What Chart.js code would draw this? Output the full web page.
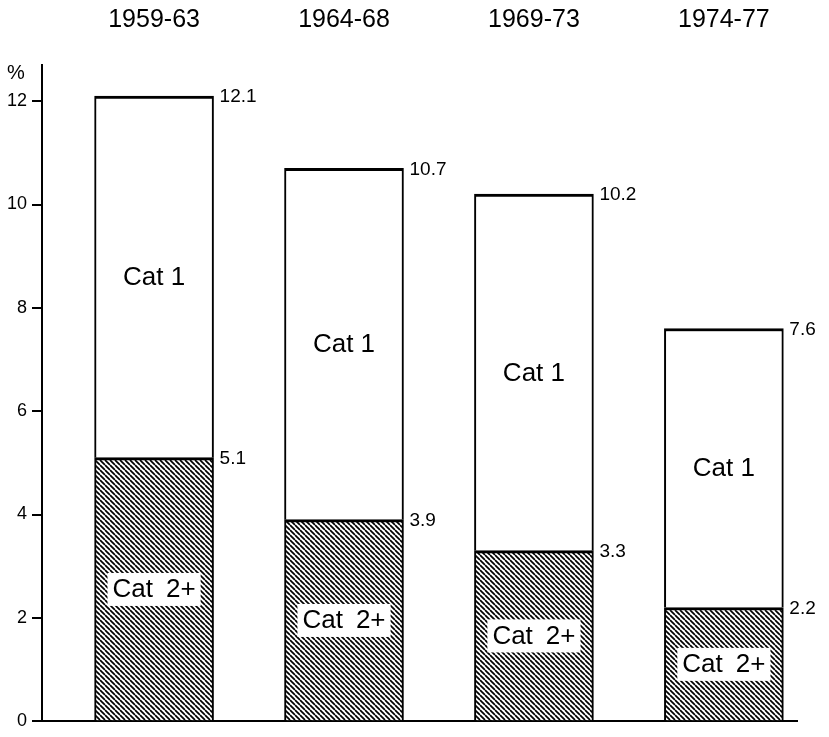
<!DOCTYPE html>
<html>
<head>
<meta charset="utf-8">
<script src="https://cdn.jsdelivr.net/npm/chart.js@4"></script>
<style>
  html, body { margin: 0; padding: 0; background: #fff; }
  #wrap { width: 829px; height: 737px; position: relative; }
</style>
</head>
<body>
<div id="wrap"><canvas id="chart"></canvas></div>
<script>
const periods = ['1959-63', '1964-68', '1969-73', '1974-77'];
const totals = [12.1, 10.7, 10.2, 7.6];
const cat2 = [5.1, 3.9, 3.3, 2.2];
const cat1 = totals.map((t, i) => +(t - cat2[i]).toFixed(1));
const segLabels = ['Cat 2+', 'Cat 1'];
const yTicks = [0, 2, 4, 6, 8, 10, 12];

const FONT = '"Liberation Sans", Arial, Helvetica, sans-serif';
const xMin = -0.59;
const xMax = 3.385;

// diagonal hatching for the lower segment
function hatch(ctx) {
  const n = 5;
  const c = document.createElement('canvas');
  c.width = n;
  c.height = n;
  const g = c.getContext('2d');
  g.fillStyle = '#fff';
  g.fillRect(0, 0, n, n);
  g.strokeStyle = '#000';
  g.lineWidth = 1.7;
  for (let k = -1; k <= 1; k++) {
    g.beginPath();
    g.moveTo(k * n, 0);
    g.lineTo(k * n + n, n);
    g.stroke();
  }
  return ctx.createPattern(c, 'repeat');
}

const labelsPlugin = {
  id: 'segLabels',
  afterDatasetsDraw(chart) {
    const ctx = chart.ctx;
    ctx.save();
    chart.data.datasets.forEach((ds, di) => {
      const meta = chart.getDatasetMeta(di);
      meta.data.forEach((bar, i) => {
        const mid = (bar.y + bar.base) / 2;
        // the hatched label is set a little wider, as in the original
        const name = di === 0 ? ds.label.replace(' ', '\u2002') : ds.label;
        ctx.font = '26px ' + FONT;
        ctx.textAlign = 'center';
        ctx.textBaseline = 'middle';
        if (di === 0) {
          const w = ctx.measureText(name).width;
          ctx.fillStyle = '#fff';
          ctx.fillRect(bar.x - w / 2 - 5, mid - 16, w + 10, 33);
        }
        ctx.fillStyle = '#000';
        ctx.fillText(name, bar.x, mid + 1);

        ctx.font = '19px ' + FONT;
        ctx.textAlign = 'left';
        const v = di === 0 ? cat2[i] : totals[i];
        ctx.fillText(v.toFixed(1), bar.x + bar.width / 2 + 6, bar.y + 1);
      });
    });
    ctx.restore();
  },
  afterDraw(chart) {
    const ctx = chart.ctx;
    const ys = chart.scales.y;
    ctx.save();
    ctx.font = '20px ' + FONT;
    ctx.fillStyle = '#000';
    ctx.textAlign = 'left';
    ctx.textBaseline = 'middle';
    ctx.fillText('%', ys.left + 7, chart.chartArea.top + 8);
    ctx.restore();
  }
};

const canvas = document.getElementById('chart');
const ctx = canvas.getContext('2d');

new Chart(canvas, {
  type: 'bar',
  data: {
    datasets: [
      {
        label: segLabels[0],
        data: cat2.map((v, i) => ({ x: i, y: v })),
        backgroundColor: hatch(ctx),
        borderColor: '#000',
        borderWidth: { top: 3, left: 2, right: 2, bottom: 0 },
        barThickness: 119
      },
      {
        label: segLabels[1],
        data: cat1.map((v, i) => ({ x: i, y: v })),
        backgroundColor: '#fff',
        borderColor: '#000',
        borderWidth: { top: 3, left: 2, right: 2, bottom: 0 },
        barThickness: 119
      }
    ]
  },
  options: {
    responsive: true,
    maintainAspectRatio: false,
    animation: false,
    layout: { padding: { left: 0, right: 32, top: 0, bottom: 11 } },
    plugins: {
      legend: { display: false },
      tooltip: { enabled: false }
    },
    scales: {
      x: {
        type: 'linear',
        position: 'bottom',
        min: xMin,
        max: xMax,
        offset: false,
        stacked: true,
        ticks: { display: false },
        grid: { display: false, drawTicks: false },
        border: { display: true, color: '#000', width: 2 },
        afterFit: s => { s.height = 0; }
      },
      x2: {
        type: 'linear',
        position: 'top',
        min: xMin,
        max: xMax,
        offset: false,
        afterBuildTicks: s => { s.ticks = periods.map((_, i) => ({ value: i })); },
        ticks: {
          color: '#000',
          font: { family: FONT, size: 25 },
          padding: 30,
          maxRotation: 0,
          autoSkip: false,
          callback: v => periods[v] ?? ''
        },
        grid: { display: false, drawTicks: false },
        border: { display: false },
        afterFit: s => { s.height = 65; }
      },
      y: {
        min: 0,
        max: 12.7,
        stacked: true,
        afterBuildTicks: s => { s.ticks = yTicks.map(v => ({ value: v })); },
        ticks: {
          color: '#000',
          font: { family: FONT, size: 18 },
          padding: 5
        },
        grid: { drawOnChartArea: false, drawTicks: true, tickLength: 10, color: '#000', lineWidth: 2 },
        border: { display: true, color: '#000', width: 2 },
        afterFit: s => { s.width = 42; }
      }
    }
  },
  plugins: [labelsPlugin]
});
</script>
</body>
</html>
